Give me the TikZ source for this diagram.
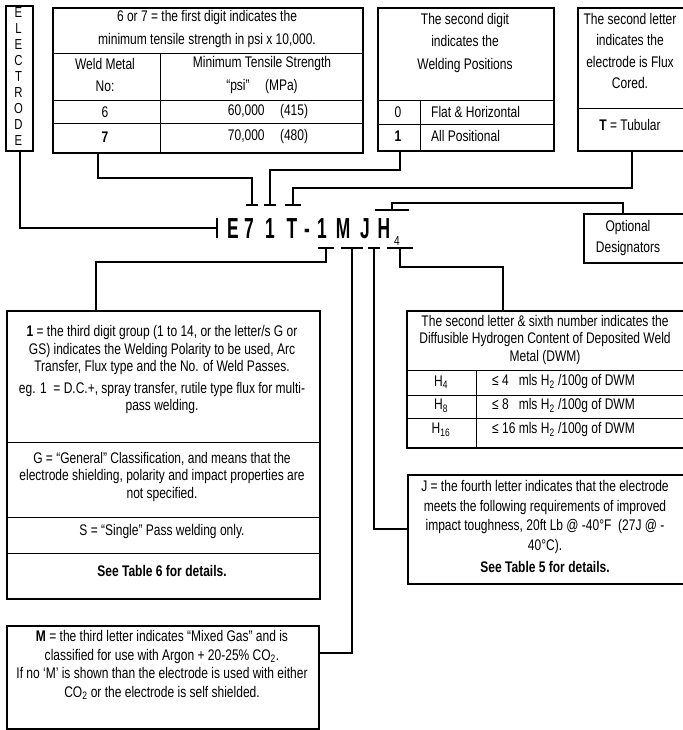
\documentclass[tikz,border=0pt]{standalone}
\usepackage{fontspec}
\setmainfont{Liberation Sans}[FakeStretch=0.78]
\newfontfamily\codefont{Liberation Sans}[FakeStretch=0.6]
\usetikzlibrary{positioning}

\begin{document}
\begin{tikzpicture}[
    x=1pt, y=-1pt,
    frame/.style={draw, line width=2.2pt, inner sep=0pt, anchor=north west},
    rule/.style={line width=0.9pt},
    link/.style={line width=2pt},
    txt/.style={inner sep=0pt, align=center,
      font=\fontsize{15.4}{17.5}\selectfont},
    code/.style={inner sep=0pt, anchor=base,
      font=\codefont\bfseries\fontsize{29}{30}\selectfont}
  ]
  \useasboundingbox (0,0) rectangle (682,730);

  % top row
  \node[frame, minimum width=27pt, minimum height=145pt] (electrode) at (5,5) {};
  \node[txt, font=\fontsize{14.5}{16}\selectfont] (electrodetxt) at (18.5,77)
    {E\\L\\E\\C\\T\\R\\O\\D\\E};

  \node[frame, minimum width=310pt, minimum height=145pt] (strength) at (52,7) {};
  \draw[rule] (52,53) -- (362,53) (52,100) -- (362,100) (52,123) -- (362,123);
  \draw[rule] (160,53) -- (160,152);
  \node[txt] (strengthhead) at (207,29)
    {6 or 7 = the first digit indicates the\\[5pt]
     minimum tensile strength in psi x 10,000.};
  \node[txt] (weldno) at (105,75) {Weld Metal\\[5pt]No:};
  \node[txt] (tensile) at (262,75)
    {Minimum Tensile Strength\\[5pt]“psi”\quad(MPa)};
  \node[txt] (six) at (105,112) {6};
  \node[txt] (sixval) at (268,112) {60,000\quad(415)};
  \node[txt] (seven) at (105,137) {\bfseries 7};
  \node[txt] (sevenval) at (268,137) {70,000\quad(480)};

  \node[frame, minimum width=176pt, minimum height=143pt] (position) at (377,7) {};
  \draw[rule] (377,100) -- (553,100) (377,124) -- (553,124);
  \draw[rule] (420,100) -- (420,150);
  \node[txt] (positionhead) at (465,43)
    {The second digit\\[5pt]indicates the\\[5pt]Welding Positions};
  \node[txt] (zero) at (398,112) {0};
  \node[txt, anchor=west] (flat) at (431,112) {Flat \& Horizontal};
  \node[txt] (one) at (398,136) {\bfseries 1};
  \node[txt, anchor=west] (allpos) at (431,136) {All Positional};

  \node[frame, minimum width=107pt, minimum height=143pt] (flux) at (577,7) {};
  \draw[rule] (577,108) -- (684,108);
  \node[txt] (fluxhead) at (630,51)
    {The second letter\\[4pt]indicates the\\[4pt]electrode is Flux\\[4pt]Cored.};
  \node[txt] (tubular) at (630,125) {\textbf{T} = Tubular};

  \node[frame, minimum width=101pt, minimum height=49pt] (optional) at (583,213) {};
  \node[txt] (optionaltxt) at (628,238) {Optional\\[3pt]Designators};

  % the code
  \node[code] (cE) at (233,238) {E};
  \node[code] (c7) at (249,238) {7};
  \node[code] (c1) at (270,238) {1};
  \node[code] (cT) at (292,238) {T};
  \node[code] (cdash) at (307,238) {-};
  \node[code] (cone) at (322,238) {1};
  \node[code] (cM) at (343,238) {M};
  \node[code] (cJ) at (365,238) {J};
  \node[code] (cH) at (384,238) {H};
  \node[inner sep=0pt, anchor=base, font=\fontsize{13}{13}\selectfont]
    (cfour) at (397,245) {4};

  \coordinate (tE) at (217,228);
  \coordinate (t7) at (252,205);
  \coordinate (t1) at (270,205);
  \coordinate (tT) at (293,205);
  \coordinate (tH) at (392,210);
  \coordinate (b1) at (326,248);
  \coordinate (bM) at (352,248);
  \coordinate (bJ) at (374,248);
  \coordinate (bH) at (400,248);

  \draw[link] (tE) ++(0,-10) -- ++(0,20);
  \foreach \t/\w in {t7/6, t1/6, tT/8, tH/17, b1/8, bM/11, bJ/6, bH/13}
    \draw[link] (\t) ++(-\w,0) -- ++(2*\w,0);

  % bottom boxes
  \node[frame, minimum width=313pt, minimum height=288pt] (usage) at (6,310) {};
  \draw[rule] (6,442) -- (319,442) (6,517) -- (319,517) (6,553) -- (319,553);
  \node[txt] (usagehead) at (162,370)
    {\textbf{1} = the third digit group (1 to 14, or the letter/s G or\\
     GS) indicates the Welding Polarity to be used, Arc\\
     Transfer, Flux type and the No. of Weld Passes.\\[4pt]
     eg. 1\ \ = D.C.+, spray transfer, rutile type flux for multi-\\
     pass welding.};
  \node[txt] (general) at (162,477)
    {G = “General” Classification, and means that the\\
     electrode shielding, polarity and impact properties are\\
     not specified.};
  \node[txt] (single) at (162,532) {S = “Single” Pass welding only.};
  \node[txt] (table6) at (162,571) {\bfseries See Table 6 for details.};

  \node[frame, minimum width=278pt, minimum height=137pt] (hydrogen) at (406,310) {};
  \draw[rule] (406,370) -- (684,370) (406,395) -- (684,395) (406,418) -- (684,418);
  \draw[rule] (476,370) -- (476,447);
  \node[txt] (hydrogenhead) at (545,340)
    {The second letter \& sixth number indicates the\\
     Diffusible Hydrogen Content of Deposited Weld\\
     Metal (DWM)};
  \node[txt] (hfour) at (441,382) {H\textsubscript{4}};
  \node[txt, anchor=west] (hfourval) at (492,382)
    {≤ 4\ \ \ mls H\textsubscript{2} /100g of DWM};
  \node[txt] (height) at (441,406) {H\textsubscript{8}};
  \node[txt, anchor=west] (heightval) at (492,406)
    {≤ 8\ \ \ mls H\textsubscript{2} /100g of DWM};
  \node[txt] (hsixteen) at (441,430) {H\textsubscript{16}};
  \node[txt, anchor=west] (hsixteenval) at (492,430)
    {≤ 16 mls H\textsubscript{2} /100g of DWM};

  \node[frame, minimum width=277pt, minimum height=109pt] (impact) at (407,474) {};
  \node[txt, font=\fontsize{15.4}{19.5}\selectfont] (impacthead) at (545,517)
    {J = the fourth letter indicates that the electrode\\
     meets the following requirements of improved\\
     impact toughness, 20ft Lb @ -40°F\ \ (27J @ -\\
     40°C).};
  \node[txt] (table5) at (545,567) {\bfseries See Table 5 for details.};

  \node[frame, minimum width=312pt, minimum height=103pt] (gas) at (6,625) {};
  \node[txt, font=\fontsize{15.4}{18.5}\selectfont] (gastxt) at (162,665)
    {\textbf{M} = the third letter indicates “Mixed Gas” and is\\
     classified for use with Argon + 20-25\% CO\textsubscript{2}.\\
     If no ‘M’ is shown than the electrode is used with either\\
     CO\textsubscript{2} or the electrode is self shielded.};

  % connectors
  \draw[link] (electrode.south) |- (tE);
  \draw[link] (strength.south -| 98,0) |- (t7 |- 0,178) -- (t7);
  \draw[link] (position.south -| 400,0) |- (t1 |- 0,170) -- (t1);
  \draw[link] (flux.south -| 632,0) |- (tT |- 0,188) -- (tT);
  \draw[link] (optional.north -| 623,0) |- (tH |- 0,203) -- (tH);
  \draw[link] (b1) -- (b1 |- 0,262) -| (usage.north -| 96,0);
  \draw[link] (bM) |- (gas.east |- 0,653);
  \draw[link] (bJ) |- (impact.west |- 0,529);
  \draw[link] (bH) |- (503,267) -- (hydrogen.north -| 503,0);
\end{tikzpicture}
\end{document}
